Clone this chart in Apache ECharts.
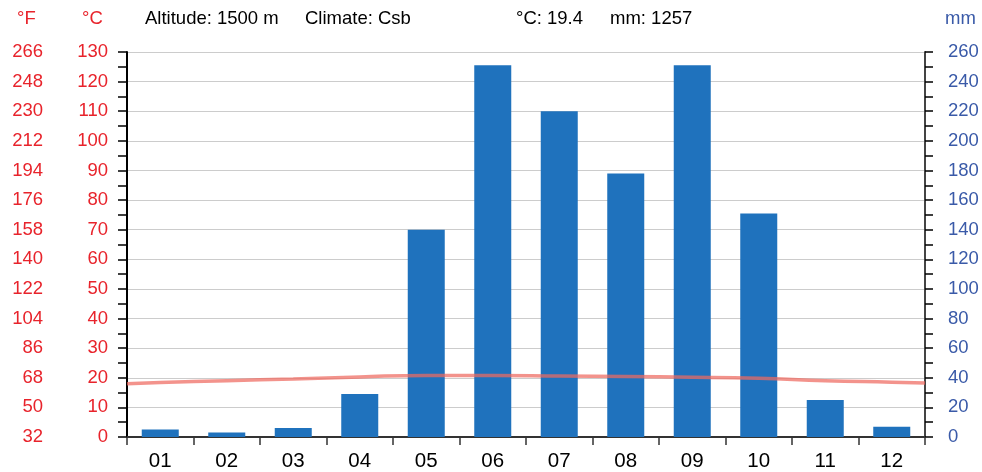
<!DOCTYPE html>
<html>
<head>
<meta charset="utf-8">
<script src="https://cdn.jsdelivr.net/npm/echarts@6/dist/echarts.min.js"></script>
<style>html,body{margin:0;padding:0;background:#fff}#c{width:982px;height:472px}</style>
</head>
<body>
<div id="c"></div>
<script>
const months = ['01','02','03','04','05','06','07','08','09','10','11','12'];
const precipitation = [5, 3, 6, 29, 140, 251, 220, 178, 251, 151, 25, 7];
const temperature = [18.4, 19.0, 19.6, 20.3, 20.8, 20.8, 20.6, 20.4, 20.2, 19.8, 19.0, 18.5];
const tempEdgeStart = 18.0;
const tempEdgeEnd = 18.2;
const headerTexts = ['Altitude: 1500 m', 'Climate: Csb', '°C: 19.4', 'mm: 1257'];

const lineData = [[0, tempEdgeStart]];
temperature.forEach((t, i) => lineData.push([i + 0.5, t]));
lineData.push([12, tempEdgeEnd]);

const FONT = 'Liberation Sans, Arial, sans-serif';
const RED = '#e8232b';
const BLUE = '#3a5aa8';
const AX = '#333';
const FS = 18.5;

const chart = echarts.init(document.getElementById('c'));
chart.setOption({
  animation: false,
  textStyle: { fontFamily: FONT },
  grid: { left: 127, right: 57, top: 52, bottom: 34, containLabel: false },
  xAxis: [
    {
      type: 'category', data: months,
      axisLine: { lineStyle: { color: AX, width: 2 } },
      axisTick: { show: true, length: 8, lineStyle: { color: AX, width: 1.5 } },
      axisLabel: { color: '#000', fontSize: 20.5, margin: 14, fontFamily: FONT },
      splitLine: { show: false }
    },
    { type: 'value', min: 0, max: 12, show: false }
  ],
  yAxis: [
    {
      type: 'value', position: 'left', min: 0, max: 130, interval: 10,
      axisLine: { show: true, lineStyle: { color: '#000', width: 2 } },
      axisTick: { show: true, length: 9, lineStyle: { color: '#000', width: 1.5 } },
      minorTick: { show: true, splitNumber: 2, length: 9, lineStyle: { color: '#000', width: 1.5 } },
      axisLabel: { color: RED, fontSize: FS, margin: 19, fontFamily: FONT },
      splitLine: { show: true, lineStyle: { color: '#cccccc', width: 1.2 } }
    },
    {
      type: 'value', position: 'left', offset: 76, min: 32, max: 266, interval: 18,
      axisLine: { show: false }, axisTick: { show: false },
      axisLabel: { color: RED, fontSize: FS, margin: 8, fontFamily: FONT },
      splitLine: { show: false }
    },
    {
      type: 'value', position: 'right', min: 0, max: 260, interval: 20,
      axisLine: { show: true, lineStyle: { color: '#444', width: 2 } },
      axisTick: { show: true, length: 8, lineStyle: { color: '#000', width: 1.5 } },
      minorTick: { show: true, splitNumber: 2, length: 8, lineStyle: { color: '#000', width: 1.5 } },
      axisLabel: { color: BLUE, fontSize: FS, margin: 23, fontFamily: FONT },
      splitLine: { show: false }
    }
  ],
  series: [
    {
      type: 'bar', data: precipitation, xAxisIndex: 0, yAxisIndex: 2,
      barWidth: 37, itemStyle: { color: '#1f72bd' }, z: 2
    },
    {
      type: 'line', data: lineData, xAxisIndex: 1, yAxisIndex: 0,
      smooth: true, showSymbol: false, symbol: 'none',
      lineStyle: { color: 'rgba(238,105,95,0.72)', width: 3.5 }, z: 3
    }
  ],
  graphic: [
    { type: 'text', left: 17, top: 9, style: { text: '°F', fill: RED, font: FS + 'px ' + FONT } },
    { type: 'text', left: 82, top: 9, style: { text: '°C', fill: RED, font: FS + 'px ' + FONT } },
    { type: 'text', left: 945, top: 9, style: { text: 'mm', fill: BLUE, font: FS + 'px ' + FONT } },
    { type: 'text', left: 145, top: 9, style: { text: headerTexts[0], fill: '#000', font: FS + 'px ' + FONT } },
    { type: 'text', left: 305, top: 9, style: { text: headerTexts[1], fill: '#000', font: FS + 'px ' + FONT } },
    { type: 'text', left: 516, top: 9, style: { text: headerTexts[2], fill: '#000', font: FS + 'px ' + FONT } },
    { type: 'text', left: 610, top: 9, style: { text: headerTexts[3], fill: '#000', font: FS + 'px ' + FONT } }
  ]
});
</script>
</body>
</html>
